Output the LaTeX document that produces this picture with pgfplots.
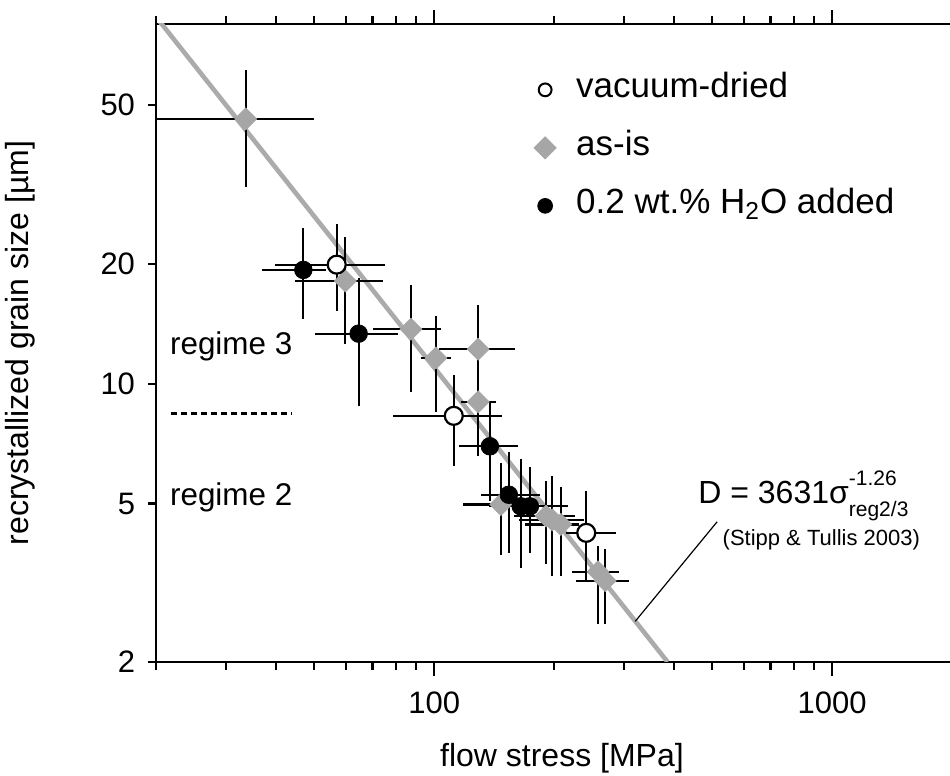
\documentclass[border=0pt]{standalone}
\usepackage{pgfplots}
\usepackage{pgfplotstable}
\pgfplotsset{compat=1.18}
\usepackage{fontspec}
\setmainfont{Liberation Sans}
\definecolor{lgray}{HTML}{ABABAB}
\definecolor{dgray}{HTML}{A6A6A6}

\pgfplotstableread{
x y xlo xhi ylo yhi
33.6 46.2 19 50 31.2 61.3
59.8 18.1 44.8 74.2 12.6 23.4
87.4 13.7 70.0 104 9.5 17.7
101 11.6 92.6 110 8.49 14.8
129 12.2 103 160 9.44 15.8
129 9.0 117 143 6.6 11.9
147 4.97 118 168 3.72 6.33
191 4.65 159 226 3.53 5.71
198 4.55 163 238 3.29 5.87
208 4.43 169 231 3.29 5.51
258 3.37 222 292 2.49 3.92
269 3.2 227 309 2.49 3.85
}\asis

\pgfplotstableread{
x y xlo xhi ylo yhi
56.9 19.9 39.9 75.3 15.2 25.2
112 8.3 78.6 148 6.2 10.5
241 4.22 214 286 3.17 5.37
}\vacdried

\pgfplotstableread{
x y xlo xhi ylo yhi
46.9 19.3 36.9 53.4 14.5 24.6
64.6 13.35 50.2 80.9 8.8 18.4
138 6.96 115.6 162 5.08 9.0
154 5.26 131 184 3.76 6.75
165 4.92 137 200 3.45 6.48
174 4.92 150 217 3.76 6.19
}\water

\pgfplotsset{
  errstyle/.style={
    error bars/.cd, x dir=both, x explicit, y dir=both, y explicit,
    error mark=none, error bar style={line width=1.1pt, black}},
}

\begin{document}
\begin{tikzpicture}
\begin{axis}[
  scale only axis, width=398pt, height=319pt,
  xmode=log, ymode=log,
  xmin=20, xmax=2000, ymin=2, ymax=80,
  axis line style={line width=1.2pt},
  every tick/.style={line width=1.1pt, black},
  tick align=outside,
  major tick length=7pt, minor tick length=4pt,
  xtick={100,1000}, xticklabels={100,1000},
  minor xtick={20,30,40,50,60,70,80,90,200,300,400,500,600,700,800,900,2000},
  ytick=\empty,
  extra y ticks={2,5,10,20,50}, extra y tick labels={2,5,10,20,50},
  extra y tick style={major tick length=4pt, yticklabel style={xshift=-3pt}},
  minor ytick={3,4,6,7,8,9,30,40,60,70,80},
  /pgf/number format/assume math mode=true,
  ticklabel style={font=\fontsize{15.5}{18}\selectfont},
  xticklabel style={yshift=-4.5pt},
  xlabel={flow stress [MPa]}, ylabel={recrystallized grain size [µm]},
  label style={font=\fontsize{16}{19}\selectfont},
  xlabel style={at={(axis description cs:0.51,-0.1505)}, anchor=center},
  ylabel style={at={(axis description cs:-0.1709,0.5)}, anchor=center},
  legend style={at={(axis description cs:0.467,0.935)}, anchor=north west, draw=none, fill=none,
    font=\fontsize{17.5}{20}\selectfont, row sep=9pt, column sep=8pt,
    nodes={inner sep=2pt, text height=12pt, text depth=4pt}},
  legend cell align=left,
]
\addlegendimage{only marks, mark=*, mark size=3.2pt, mark options={fill=white, draw=black, line width=1pt}}
\addlegendentry{vacuum-dried}
\addlegendimage{only marks, mark=square*, mark size=3.9pt, mark options={rotate=45, fill=dgray, draw=dgray}}
\addlegendentry{as-is}
\addlegendimage{only marks, mark=*, mark size=3.7pt, mark options={fill=black, draw=black}}
\addlegendentry{0.2 wt.\% H\textsubscript{2}O added}

\addplot[lgray, line width=2.3pt, forget plot] coordinates {(20,83.4) (386,2)};

\addplot[only marks, forget plot, mark=square*, mark size=3.9pt, mark options={rotate=45, fill=dgray, draw=dgray, line width=0.3pt}, errstyle]
  table[x=x, y=y, x error plus expr=\thisrow{xhi}-\thisrow{x}, x error minus expr=\thisrow{x}-\thisrow{xlo},
        y error plus expr=\thisrow{yhi}-\thisrow{y}, y error minus expr=\thisrow{y}-\thisrow{ylo}] {\asis};
\addplot[only marks, forget plot, mark=*, mark size=4.5pt, mark options={fill=white, draw=black, line width=1.1pt}, errstyle]
  table[x=x, y=y, x error plus expr=\thisrow{xhi}-\thisrow{x}, x error minus expr=\thisrow{x}-\thisrow{xlo},
        y error plus expr=\thisrow{yhi}-\thisrow{y}, y error minus expr=\thisrow{y}-\thisrow{ylo}] {\vacdried};
\addplot[only marks, forget plot, mark=*, mark size=4.4pt, mark options={fill=black, draw=black}, errstyle]
  table[x=x, y=y, x error plus expr=\thisrow{xhi}-\thisrow{x}, x error minus expr=\thisrow{x}-\thisrow{xlo},
        y error plus expr=\thisrow{yhi}-\thisrow{y}, y error minus expr=\thisrow{y}-\thisrow{ylo}] {\water};

\node[font=\fontsize{15.7}{18}\selectfont] at (axis cs:30.9,12.4) {regime 3};
\node[font=\fontsize{15.7}{18}\selectfont] at (axis cs:30.9,5.18) {regime 2};
\draw[line width=1.3pt, dash pattern=on 3pt off 2pt] (axis cs:21.8,8.4) -- (axis cs:44,8.4);
\draw[line width=0.6pt] (axis cs:320,2.53) -- (axis cs:514,4.5);
\node[anchor=west, font=\fontsize{16}{19}\selectfont, inner sep=0pt] at (axis cs:460,5.23)
  {D = 3631σ\rlap{\raisebox{1.05ex}{\fontsize{10.5}{12}\selectfont -1.26}}\raisebox{-0.75ex}{\fontsize{10.5}{12}\selectfont reg2/3}};
\node[font=\fontsize{11}{13}\selectfont] at (axis cs:939,4.06) {(Stipp \& Tullis 2003)};
\end{axis}
\pgfresetboundingbox
\useasboundingbox (-78pt,-57pt) rectangle (397pt,331pt);
\end{tikzpicture}
\end{document}
